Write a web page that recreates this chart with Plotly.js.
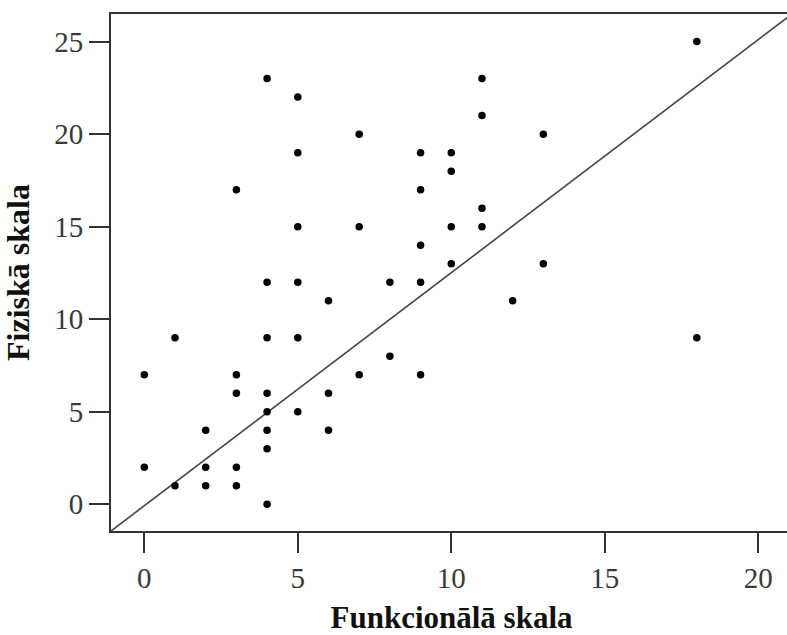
<!DOCTYPE html>
<html>
<head>
<meta charset="utf-8">
<script src="https://cdn.plot.ly/plotly-3.0.1.min.js"></script>
<style>
html, body { margin: 0; padding: 0; overflow: hidden; background: #fff; }
#chart { width: 794px; height: 635px; }
</style>
</head>
<body>
<div id="chart"></div>
<script>
// Funkcionālā skala (x) and Fiziskā skala (y) values
const funkcionala = [0, 0, 1, 1, 2, 2, 2, 3, 3, 3, 3, 3,
  4, 4, 4, 4, 4, 4, 4, 4,
  5, 5, 5, 5, 5, 5,
  6, 6, 6, 7, 7, 7, 8, 8,
  9, 9, 9, 9, 9, 10, 10, 10, 10,
  11, 11, 11, 11, 12, 13, 13, 18, 18];
const fiziska = [7, 2, 9, 1, 4, 2, 1, 17, 7, 6, 2, 1,
  23, 12, 9, 6, 5, 4, 3, 0,
  22, 19, 15, 12, 9, 5,
  11, 6, 4, 20, 15, 7, 12, 8,
  19, 17, 14, 12, 7, 19, 18, 15, 13,
  23, 21, 16, 15, 11, 20, 13, 25, 9];

// axis extents; the reference line runs corner to corner across them
const xRange = [-1.085, 21.1];
const yRange = [-1.44, 26.49];
const xTicks = [0, 5, 10, 15, 20];
const yTicks = [0, 5, 10, 15, 20, 25];

const axisColor = '#333333';
const tickFont = { family: 'Liberation Serif, Times New Roman, serif', size: 29, color: '#3a3a3a' };
const xTitleFont = { family: 'Liberation Serif, Times New Roman, serif', size: 31, color: '#111111', weight: 'bold' };
const yTitleFont = { family: 'Liberation Serif, Times New Roman, serif', size: 32, color: '#111111', weight: 'bold' };

const traces = [
  {
    type: 'scatter', mode: 'lines',
    x: xRange, y: yRange,
    line: { color: '#444444', width: 1.6 },
    hoverinfo: 'skip', showlegend: false
  },
  {
    type: 'scatter', mode: 'markers',
    x: funkcionala, y: fiziska,
    marker: { color: '#000000', size: 7.5, line: { width: 0 } },
    showlegend: false
  }
];

const layout = {
  width: 794, height: 635,
  margin: { l: 111, r: 2, t: 14, b: 104 },
  paper_bgcolor: '#ffffff', plot_bgcolor: '#ffffff',
  showlegend: false,
  xaxis: {
    range: xRange, tickvals: xTicks, ticktext: xTicks.map(String),
    showgrid: false, zeroline: false,
    showline: true, linecolor: axisColor, linewidth: 2, mirror: true,
    ticks: 'outside', ticklen: 20, tickwidth: 2, tickcolor: axisColor,
    tickfont: tickFont,
    title: { text: '<b>Funkcionālā skala</b>', font: xTitleFont, standoff: 27 }
  },
  yaxis: {
    range: yRange, tickvals: yTicks, ticktext: yTicks.map(String),
    showgrid: false, zeroline: false,
    showline: true, linecolor: axisColor, linewidth: 2, mirror: true,
    ticks: 'outside', ticklen: 20, tickwidth: 2, tickcolor: axisColor,
    tickfont: tickFont,
    title: { text: '<b>Fiziskā skala</b>', font: yTitleFont, standoff: 20 }
  }
};

Plotly.newPlot('chart', traces, layout, { displayModeBar: false, staticPlot: true });
</script>
</body>
</html>
